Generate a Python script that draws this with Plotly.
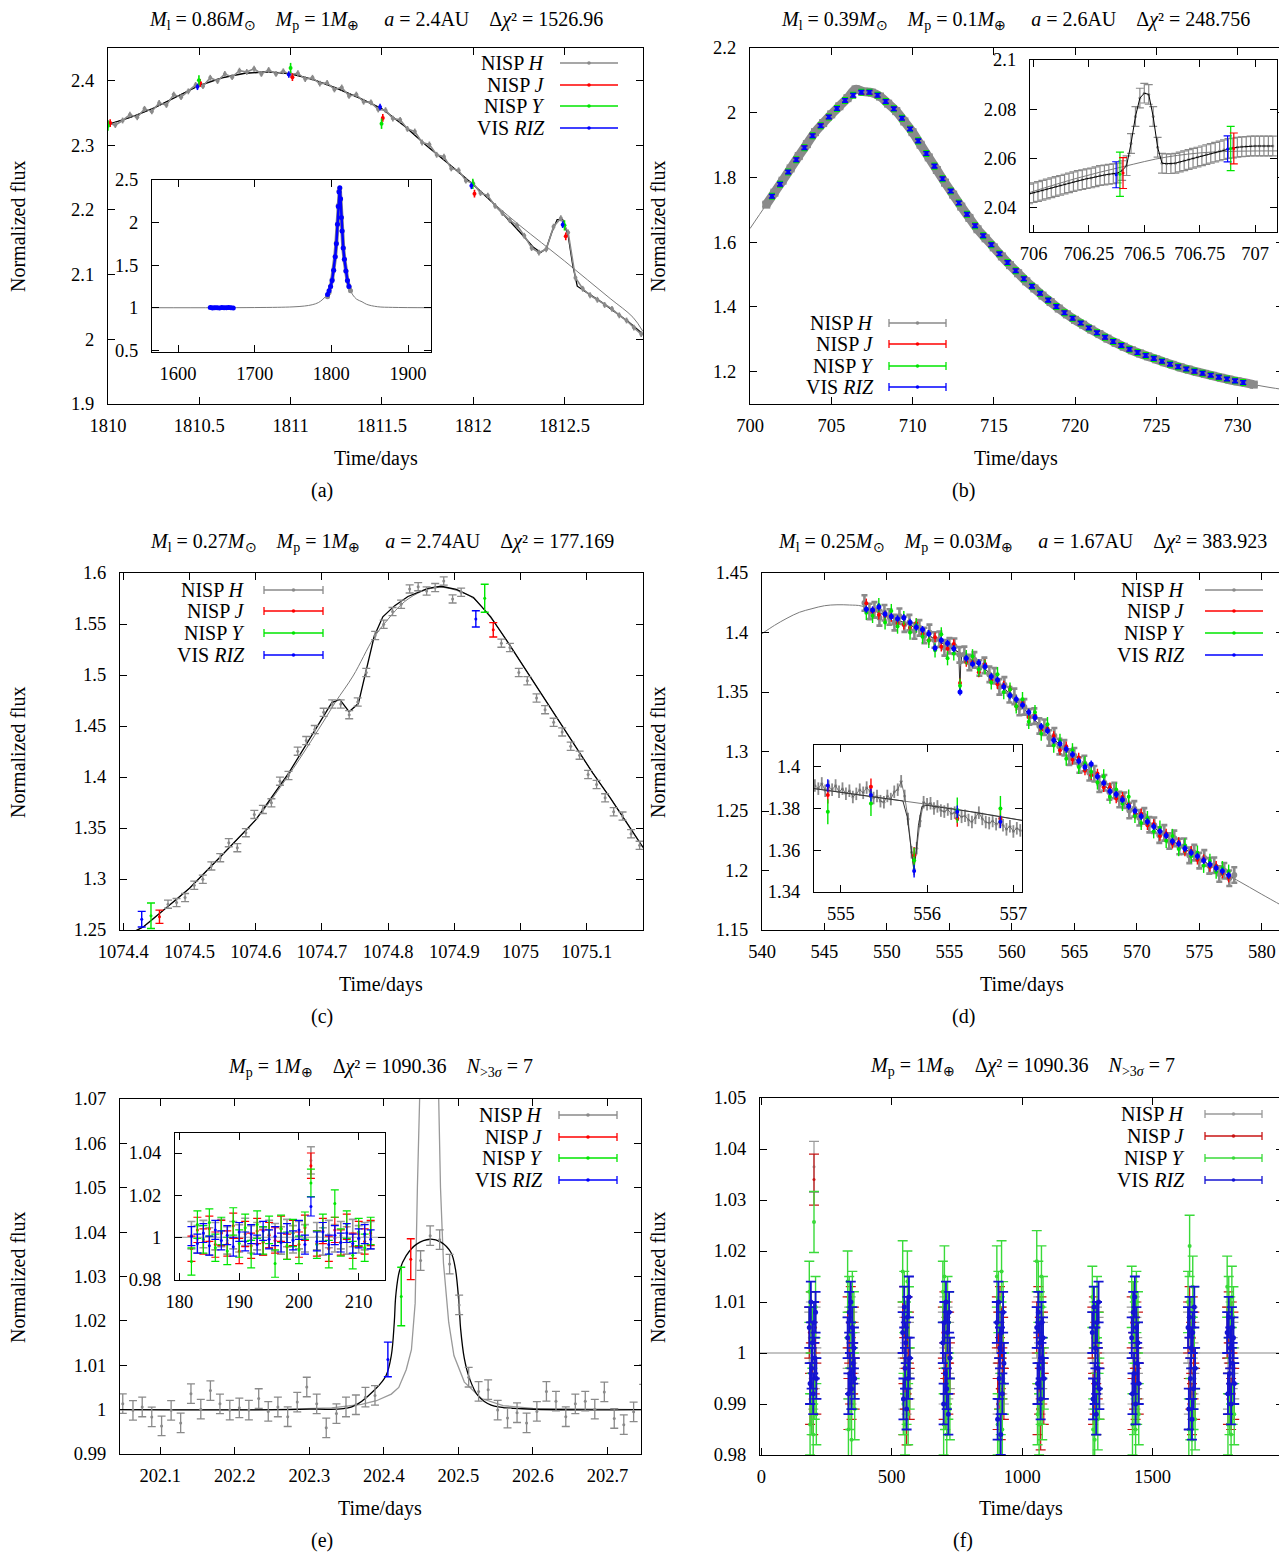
import plotly.graph_objects as go

# ============================ DATA ============================
# ---- panel (a) ----
a_H_t = [1810.00, 1810.04, 1810.08, 1810.12, 1810.16, 1810.20, 1810.24, 1810.28, 1810.32, 1810.36,
         1810.40, 1810.44, 1810.48, 1810.52, 1810.56, 1810.60, 1810.64, 1810.68, 1810.72, 1810.76,
         1810.80, 1810.84, 1810.88, 1810.92, 1810.96, 1811.00, 1811.04, 1811.08, 1811.12, 1811.16,
         1811.20, 1811.24, 1811.28, 1811.32, 1811.36, 1811.40, 1811.44, 1811.48, 1811.52, 1811.56,
         1811.60, 1811.64, 1811.68, 1811.72, 1811.76, 1811.80, 1811.84, 1811.88, 1811.92, 1811.96,
         1812.00, 1812.04, 1812.08, 1812.12, 1812.16, 1812.20, 1812.24, 1812.28, 1812.32, 1812.36,
         1812.40, 1812.44, 1812.48, 1812.52, 1812.56, 1812.60, 1812.64, 1812.68, 1812.72, 1812.76,
         1812.80, 1812.84, 1812.88, 1812.92]
a_H_f = [2.334, 2.331, 2.338, 2.347, 2.343, 2.356, 2.352, 2.365, 2.362, 2.378,
         2.374, 2.383, 2.393, 2.391, 2.404, 2.399, 2.410, 2.405, 2.415, 2.413,
         2.418, 2.410, 2.416, 2.410, 2.414, 2.409, 2.411, 2.402, 2.404, 2.395,
         2.396, 2.386, 2.389, 2.376, 2.378, 2.367, 2.366, 2.355, 2.354, 2.341,
         2.339, 2.325, 2.321, 2.304, 2.301, 2.285, 2.282, 2.264, 2.261, 2.245,
         2.241, 2.226, 2.222, 2.206, 2.195, 2.184, 2.176, 2.160, 2.141, 2.134,
         2.139, 2.174, 2.187, 2.165, 2.095, 2.078, 2.068, 2.061, 2.053, 2.047,
         2.037, 2.029, 2.018, 2.008]
a_J_t = [1810.012, 1810.505, 1811.010, 1811.505, 1812.007, 1812.507]
a_J_f = [2.334, 2.396, 2.405, 2.342, 2.225, 2.159]
a_Y_t = [1810.000, 1810.498, 1811.000, 1811.498, 1811.998, 1812.500]
a_Y_f = [2.330, 2.400, 2.419, 2.333, 2.240, 2.176]
a_V_t = [1810.490, 1810.990, 1811.490, 1811.990, 1812.490]
a_V_f = [2.390, 2.409, 2.359, 2.237, 2.177]
a_sl_t = [1810.0, 1810.125, 1810.25, 1810.375, 1810.5, 1810.625, 1810.75, 1810.875, 1811.0, 1811.125,
          1811.25, 1811.375, 1811.5, 1811.625, 1811.75, 1811.875, 1812.0, 1812.125, 1812.25, 1812.375,
          1812.5, 1812.625, 1812.75, 1812.875, 1812.93]
a_sl_f = [2.332, 2.343, 2.357, 2.375, 2.392, 2.404, 2.411, 2.413, 2.410, 2.401,
          2.388, 2.373, 2.356, 2.329, 2.298, 2.269, 2.239, 2.207, 2.177, 2.149,
          2.121, 2.092, 2.063, 2.034, 2.012]
a_pl_t = [1810.0, 1810.125, 1810.25, 1810.375, 1810.5, 1810.625, 1810.75, 1810.875, 1811.0, 1811.125,
          1811.25, 1811.375, 1811.5, 1811.625, 1811.75, 1811.875, 1812.0, 1812.1, 1812.2, 1812.28,
          1812.33, 1812.37, 1812.40, 1812.43, 1812.46, 1812.49, 1812.52, 1812.545, 1812.57, 1812.6,
          1812.65, 1812.7, 1812.75, 1812.8, 1812.85, 1812.93]
a_pl_f = [2.332, 2.343, 2.357, 2.375, 2.392, 2.404, 2.411, 2.413, 2.410, 2.401,
          2.388, 2.373, 2.356, 2.329, 2.298, 2.269, 2.239, 2.213, 2.183, 2.158,
          2.142, 2.134, 2.140, 2.165, 2.185, 2.185, 2.160, 2.115, 2.082, 2.076,
          2.067, 2.058, 2.048, 2.038, 2.027, 2.008]
# inset (a)
ai_sl_t = [1566, 1650, 1700, 1730, 1750, 1765, 1775, 1783, 1789, 1794, 1798, 1801, 1804, 1806.5, 1808.5,
           1809.8, 1810.9, 1812, 1813.3, 1815.5, 1818, 1821, 1824, 1828, 1833, 1840, 1846, 1860, 1880, 1930]
ai_sl_f = [1.0, 1.0, 1.002, 1.005, 1.01, 1.02, 1.035, 1.06, 1.1, 1.15, 1.22, 1.32, 1.5, 1.75, 2.05,
           2.3, 2.41, 2.28, 2.0, 1.7, 1.48, 1.32, 1.22, 1.15, 1.1, 1.07, 1.04, 1.012, 1.004, 1.0]
ai_H_t = [1795, 1797, 1799, 1801, 1803, 1805, 1806.5, 1808, 1809, 1810, 1811, 1812, 1813, 1814,
          1815.5, 1817, 1819, 1821, 1823, 1825]
ai_H_f = [1.13, 1.18, 1.25, 1.33, 1.44, 1.6, 1.76, 1.98, 2.2, 2.37, 2.4, 2.27, 2.06, 1.9,
          1.7, 1.57, 1.43, 1.32, 1.25, 1.2]
ai_Vb_t = [1642, 1645, 1648, 1651, 1654, 1657, 1660, 1663, 1666, 1669, 1672]
ai_Vb_f = [1.003, 0.998, 1.001, 1.0, 0.997, 1.002, 1.0, 0.999, 1.003, 1.0, 0.998]
ai_Vp_t = [1795, 1797, 1799, 1801, 1803, 1805, 1806.5, 1808, 1809, 1810, 1811, 1812, 1813, 1814,
           1815.5, 1817, 1819, 1821, 1823]
ai_Vp_f = [1.155, 1.2, 1.25, 1.32, 1.44, 1.6, 1.75, 1.98, 2.19, 2.36, 2.41, 2.28, 2.06, 1.9,
           1.7, 1.57, 1.43, 1.32, 1.25]

# ---- panel (b) ----
b_sl_t = [700, 701, 702, 703, 704, 705, 706, 706.5, 707, 707.5, 708, 709, 710, 711, 712, 713, 714, 715,
          716, 717, 718, 719, 720, 721, 722, 723, 724, 725, 726, 727, 728, 729, 730, 731, 732, 732.8]
b_sl_f = [1.642, 1.716, 1.790, 1.866, 1.940, 1.995, 2.045, 2.058, 2.065, 2.062, 2.050, 2.005, 1.940,
          1.862, 1.784, 1.710, 1.640, 1.584, 1.529, 1.479, 1.435, 1.395, 1.360, 1.330, 1.302, 1.277,
          1.256, 1.238, 1.221, 1.206, 1.193, 1.181, 1.170, 1.160, 1.151, 1.145]
b_H_t = [701.0, 701.5, 702.0, 702.5, 703.0, 703.5, 704.0, 704.5, 705.0, 705.5, 706.0, 706.5, 707.0,
         707.5, 708.0, 708.5, 709.0, 709.5, 710.0, 710.5, 711.0, 711.5, 712.0, 712.5, 713.0, 713.5,
         714.0, 714.5, 715.0, 715.5, 716.0, 716.5, 717.0, 717.5, 718.0, 718.5, 719.0, 719.5, 720.0,
         720.5, 721.0, 721.5, 722.0, 722.5, 723.0, 723.5, 724.0, 724.5, 725.0, 725.5, 726.0, 726.5,
         727.0, 727.5, 728.0, 728.5, 729.0, 729.5, 730.0, 730.5, 731.0]
b_H_f = [1.716, 1.753, 1.790, 1.828, 1.866, 1.903, 1.940, 1.968, 1.995, 2.020, 2.045, 2.072, 2.065,
         2.062, 2.050, 2.028, 2.005, 1.973, 1.940, 1.901, 1.862, 1.823, 1.784, 1.747, 1.710, 1.675,
         1.640, 1.612, 1.584, 1.556, 1.529, 1.504, 1.479, 1.457, 1.435, 1.415, 1.395, 1.377, 1.360,
         1.345, 1.330, 1.316, 1.302, 1.289, 1.277, 1.266, 1.256, 1.247, 1.238, 1.229, 1.221, 1.213,
         1.206, 1.199, 1.193, 1.187, 1.181, 1.175, 1.170, 1.165, 1.160]
b_V_t = [701.35, 701.85, 702.35, 702.85, 703.35, 703.85, 704.35, 704.85, 705.35, 705.85,
         706.35, 706.85, 707.35, 707.85, 708.35, 708.85, 709.35, 709.85, 710.35, 710.85,
         711.35, 711.85, 712.35, 712.85, 713.35, 713.85, 714.35, 714.85, 715.35, 715.85,
         716.35, 716.85, 717.35, 717.85, 718.35, 718.85, 719.35, 719.85, 720.35, 720.85,
         721.35, 721.85, 722.35, 722.85, 723.35, 723.85, 724.35, 724.85, 725.35, 725.85,
         726.35, 726.85, 727.35, 727.85, 728.35, 728.85, 729.35, 729.85, 730.35]
b_V_f = [1.742, 1.779, 1.817, 1.855, 1.892, 1.929, 1.960, 1.987, 2.013, 2.038,
         2.054, 2.063, 2.063, 2.054, 2.035, 2.012, 1.983, 1.950, 1.913, 1.874,
         1.835, 1.796, 1.758, 1.721, 1.686, 1.651, 1.620, 1.592, 1.564, 1.537,
         1.512, 1.487, 1.464, 1.442, 1.421, 1.401, 1.382, 1.365, 1.350, 1.335,
         1.320, 1.306, 1.293, 1.281, 1.269, 1.259, 1.250, 1.241, 1.232, 1.223,
         1.215, 1.208, 1.201, 1.195, 1.189, 1.183, 1.177, 1.1715, 1.1665]
# inset (b)
bi_H_t = [705.98, 706.00, 706.02, 706.04, 706.06, 706.08, 706.10, 706.12, 706.14, 706.16,
          706.18, 706.20, 706.22, 706.24, 706.26, 706.28, 706.30, 706.32, 706.34, 706.36,
          706.38, 706.40, 706.42, 706.44, 706.46, 706.48, 706.50, 706.52, 706.54, 706.56,
          706.58, 706.60, 706.62, 706.64, 706.66, 706.68, 706.70, 706.72, 706.74, 706.76,
          706.78, 706.80, 706.82, 706.84, 706.86, 706.88, 706.90, 706.92, 706.94, 706.96,
          706.98, 707.00, 707.02, 707.04, 707.06, 707.08]
bi_H_f = [2.0455, 2.0460, 2.0465, 2.0470, 2.0475, 2.0480, 2.0485, 2.0490, 2.0495, 2.0500,
          2.0505, 2.0510, 2.0513, 2.0517, 2.0520, 2.0525, 2.0530, 2.0532, 2.0535, 2.0537,
          2.0540, 2.0550, 2.0570, 2.0660, 2.0770, 2.0845, 2.0865, 2.0860, 2.0770, 2.0645,
          2.0580, 2.0578, 2.0578, 2.0580, 2.0585, 2.0590, 2.0595, 2.0600, 2.0605, 2.0610,
          2.0615, 2.0620, 2.0625, 2.0630, 2.0635, 2.0640, 2.0642, 2.0645, 2.0647, 2.0648,
          2.0650, 2.0650, 2.0650, 2.0650, 2.0650, 2.0650]
bi_sl_t = [705.98, 706.2, 706.4, 706.6, 706.8, 707.1]
bi_sl_f = [2.0460, 2.0520, 2.0565, 2.0605, 2.0625, 2.0630]
bi_J_t = [706.404, 706.904]
bi_J_f = [2.0540, 2.0640]
bi_Y_t = [706.390, 706.890]
bi_Y_f = [2.0535, 2.0640]
bi_V_t = [706.373, 706.876]
bi_V_f = [2.0533, 2.0638]

# ---- panel (c) ----
c_H_t = [1074.4675, 1074.4804, 1074.4933, 1074.5072, 1074.5201, 1074.5330, 1074.5464, 1074.5593,
         1074.5722, 1074.5851, 1074.5979, 1074.6108, 1074.6237, 1074.6366, 1074.6495, 1074.6634,
         1074.6763, 1074.6892, 1074.7026, 1074.7155, 1074.7284, 1074.7412, 1074.7541, 1074.7670,
         1074.7804, 1074.7933, 1074.8067, 1074.8196, 1074.8325, 1074.8454, 1074.8582, 1074.8711,
         1074.8840, 1074.8974, 1074.9103, 1074.9711, 1074.9840, 1074.9974, 1075.0103, 1075.0242,
         1075.0371, 1075.0500, 1075.0629, 1075.0758, 1075.0892, 1075.1021, 1075.1149, 1075.1278,
         1075.1407, 1075.1541, 1075.1670, 1075.1799]
c_H_f = [1.2753, 1.2769, 1.2818, 1.2939, 1.2998, 1.3128, 1.3209, 1.3356, 1.3307, 1.3454,
         1.3633, 1.3682, 1.3747, 1.3959, 1.4015, 1.4253, 1.4357, 1.4465, 1.4634, 1.4716,
         1.4716, 1.4611, 1.4735, 1.5025, 1.5387, 1.5498, 1.5622, 1.5694, 1.5844, 1.5866,
         1.5824, 1.5857, 1.5922, 1.5746, 1.5811, 1.5312, 1.5270, 1.5025, 1.4944, 1.4774,
         1.4660, 1.4536, 1.4442, 1.4302, 1.4214, 1.4024, 1.3927, 1.3796, 1.3659, 1.3617,
         1.3444, 1.3330]
c_J_t = [1074.4546, 1074.9588]
c_J_f = [1.2630, 1.5443]
c_J_e = [0.0065, 0.0070]
c_Y_t = [1074.4418, 1074.9459]
c_Y_f = [1.2640, 1.5752]
c_Y_e = [0.0125, 0.0137]
c_V_t = [1074.4278, 1074.9325]
c_V_f = [1.2606, 1.5550]
c_V_e = [0.0077, 0.0080]
c_sl_t = [1074.395, 1074.43, 1074.46, 1074.5, 1074.55, 1074.6, 1074.65, 1074.7, 1074.721, 1074.747,
          1074.778, 1074.799, 1074.825, 1074.851, 1074.877, 1074.903, 1074.929, 1074.955, 1074.980,
          1075.006, 1075.032, 1075.058, 1075.083, 1075.109, 1075.135, 1075.161, 1075.185]
c_sl_f = [1.2415, 1.253, 1.269, 1.291, 1.324, 1.358, 1.402, 1.452, 1.474, 1.499,
          1.536, 1.554, 1.572, 1.582, 1.586, 1.583, 1.575, 1.556, 1.533,
          1.507, 1.481, 1.455, 1.430, 1.404, 1.380, 1.355, 1.331]
c_pl_t = [1074.395, 1074.43, 1074.46, 1074.5, 1074.55, 1074.6, 1074.65, 1074.7, 1074.715, 1074.727,
          1074.741, 1074.755, 1074.767, 1074.779, 1074.792, 1074.81, 1074.83, 1074.86, 1074.88,
          1074.903, 1074.929, 1074.955, 1074.980, 1075.006, 1075.032, 1075.058, 1075.083, 1075.109,
          1075.135, 1075.161, 1075.185]
c_pl_f = [1.2415, 1.253, 1.269, 1.291, 1.324, 1.358, 1.404, 1.458, 1.473, 1.476,
          1.464, 1.472, 1.505, 1.538, 1.557, 1.568, 1.577, 1.585, 1.587,
          1.584, 1.576, 1.557, 1.533, 1.507, 1.481, 1.455, 1.430, 1.404,
          1.380, 1.355, 1.331]

# ---- panel (d) ----
d_sl_t = [540, 541, 542, 543, 544, 545, 546, 547, 548, 550, 552, 554, 556, 558, 560, 562, 564, 566,
          568, 570, 572, 574, 576, 578, 580, 581.7]
d_sl_f = [1.399, 1.406, 1.412, 1.417, 1.420, 1.4225, 1.4233, 1.4231, 1.4222, 1.4138, 1.4055, 1.3935,
          1.3820, 1.3680, 1.3465, 1.3245, 1.3040, 1.2850, 1.2660, 1.2480, 1.2310, 1.2170, 1.2035,
          1.1920, 1.1800, 1.1700]
d_pl_t = [548.15, 550, 552, 554, 555, 555.5, 555.72, 555.77, 555.81, 555.845, 555.87, 555.9, 555.94,
          556.0, 556.5, 558, 560, 562, 564, 566, 568, 570, 572, 574, 576, 577.9]
d_pl_f = [1.4218, 1.4138, 1.4055, 1.3935, 1.3878, 1.3849, 1.3836, 1.3760, 1.3620, 1.3510, 1.3580,
          1.3720, 1.3810, 1.3815, 1.3785, 1.3680, 1.3465, 1.3245, 1.3040, 1.2850, 1.2660, 1.2480,
          1.2310, 1.2170, 1.2035, 1.1925]
d_H_t = [548.2, 548.6, 549.0, 549.4, 549.8, 550.2, 550.6, 551.0, 551.4, 551.8,
         552.2, 552.6, 553.0, 553.4, 553.8, 554.2, 554.6, 555.0, 555.4, 555.8,
         556.2, 556.6, 557.0, 557.4, 557.8, 558.2, 558.6, 559.0, 559.4, 559.8,
         560.2, 560.6, 561.0, 561.4, 561.8, 562.2, 562.6, 563.0, 563.4, 563.8,
         564.2, 564.6, 565.0, 565.4, 565.8, 566.2, 566.6, 567.0, 567.4, 567.8,
         568.2, 568.6, 569.0, 569.4, 569.8, 570.2, 570.6, 571.0, 571.4, 571.8,
         572.2, 572.6, 573.0, 573.4, 573.8, 574.2, 574.6, 575.0, 575.4, 575.8,
         576.2, 576.6, 577.0, 577.4, 577.8]
d_H_f = [1.4248, 1.4177, 1.4190, 1.4123, 1.4166, 1.4130, 1.4083, 1.4137, 1.4070, 1.4083,
         1.4013, 1.4039, 1.3975, 1.4001, 1.3937, 1.3944, 1.3871, 1.3888, 1.3885, 1.3812,
         1.3816, 1.3748, 1.3770, 1.3702, 1.3724, 1.3648, 1.3636, 1.3543, 1.3560, 1.3477,
         1.3463, 1.3369, 1.3375, 1.3291, 1.3297, 1.3215, 1.3204, 1.3113, 1.3132, 1.3041,
         1.3031, 1.2953, 1.2965, 1.2887, 1.2899, 1.2821, 1.2813, 1.2725, 1.2737, 1.2659,
         1.2672, 1.2596, 1.2590, 1.2504, 1.2518, 1.2443, 1.2459, 1.2385, 1.2381, 1.2297,
         1.2316, 1.2248, 1.2270, 1.2202, 1.2204, 1.2127, 1.2150, 1.2083, 1.2106, 1.2039,
         1.2044, 1.1971, 1.1998, 1.1935, 1.1962]
d_C_t = [548.35, 548.85, 549.35, 549.85, 550.35, 550.85, 551.35, 551.85, 552.35, 552.85,
         553.35, 553.85, 554.35, 554.85, 555.35, 555.85, 556.35, 556.85, 557.35, 557.85,
         558.35, 558.85, 559.35, 559.85, 560.35, 560.85, 561.35, 561.85, 562.35, 562.85,
         563.35, 563.85, 564.35, 564.85, 565.35, 565.85, 566.35, 566.85, 567.35, 567.85,
         568.35, 568.85, 569.35, 569.85, 570.35, 570.85, 571.35, 571.85, 572.35, 572.85,
         573.35, 573.85, 574.35, 574.85, 575.35, 575.85, 576.35, 576.85, 577.35]
d_V_f = [1.4195, 1.4190, 1.4215, 1.4155, 1.4135, 1.4115, 1.4125, 1.4085, 1.4045, 1.4025,
         1.3990, 1.3870, 1.3935, 1.3910, 1.3864, 1.3500, 1.3784, 1.3736, 1.3745, 1.3715,
         1.3630, 1.3600, 1.3545, 1.3470, 1.3440, 1.3390, 1.3330, 1.3285, 1.3210, 1.3175,
         1.3095, 1.3065, 1.3020, 1.2975, 1.2920, 1.2870, 1.2895, 1.2790, 1.2735, 1.2665,
         1.2640, 1.2595, 1.2540, 1.2500, 1.2455, 1.2410, 1.2370, 1.2330, 1.2295, 1.2245,
         1.2225, 1.2185, 1.2150, 1.2120, 1.2085, 1.2050, 1.2020, 1.1995, 1.1960]
d_J_f = [1.4245, 1.4175, 1.4150, 1.4140, 1.4130, 1.4080, 1.4065, 1.4040, 1.4080, 1.3990,
         1.3935, 1.3960, 1.3880, 1.3864, 1.3904, 1.3576, 1.3752, 1.3752, 1.3665, 1.3735,
         1.3600, 1.3565, 1.3555, 1.3520, 1.3380, 1.3410, 1.3290, 1.3300, 1.3180, 1.3195,
         1.3130, 1.3010, 1.3045, 1.2930, 1.2950, 1.2840, 1.2800, 1.2815, 1.2700, 1.2700,
         1.2605, 1.2620, 1.2555, 1.2470, 1.2480, 1.2380, 1.2390, 1.2290, 1.2310, 1.2225,
         1.2240, 1.2160, 1.2165, 1.2090, 1.2095, 1.2030, 1.2040, 1.1975, 1.1940]
d_Y_f = [1.4165, 1.4140, 1.4230, 1.4085, 1.4180, 1.4050, 1.4120, 1.4000, 1.4060, 1.3965,
         1.3930, 1.3850, 1.3985, 1.3784, 1.3824, 1.3552, 1.3792, 1.3800, 1.3690, 1.3710,
         1.3580, 1.3650, 1.3500, 1.3520, 1.3380, 1.3440, 1.3250, 1.3330, 1.3150, 1.3230,
         1.3050, 1.3090, 1.2940, 1.3010, 1.2870, 1.2900, 1.2830, 1.2740, 1.2790, 1.2620,
         1.2680, 1.2560, 1.2620, 1.2460, 1.2400, 1.2440, 1.2330, 1.2360, 1.2250, 1.2290,
         1.2180, 1.2210, 1.2120, 1.2150, 1.2040, 1.2080, 1.1990, 1.2020, 1.1990]
# inset (d)
di_H_t = [554.70, 554.74, 554.78, 554.82, 554.86, 554.90, 554.94, 554.98, 555.02, 555.06,
          555.10, 555.14, 555.18, 555.22, 555.26, 555.30, 555.34, 555.38, 555.42, 555.46,
          555.50, 555.54, 555.58, 555.62, 555.66, 555.70, 555.74, 555.78, 555.82, 555.85,
          555.88, 555.92, 555.96, 556.00, 556.04, 556.08, 556.12, 556.16, 556.20, 556.24,
          556.28, 556.32, 556.36, 556.40, 556.44, 556.48, 556.52, 556.56, 556.60, 556.64,
          556.68, 556.72, 556.76, 556.80, 556.84, 556.88, 556.92, 556.96, 557.00, 557.04, 557.08]
di_H_f = [1.3910, 1.3895, 1.3920, 1.3885, 1.3905, 1.3890, 1.3910, 1.3880, 1.3895, 1.3870,
          1.3885, 1.3855, 1.3870, 1.3890, 1.3875, 1.3900, 1.3880, 1.3850, 1.3860, 1.3835,
          1.3830, 1.3860, 1.3845, 1.3880, 1.3890, 1.3930, 1.3860, 1.3750, 1.3590, 1.3510,
          1.3610, 1.3740, 1.3830, 1.3820, 1.3825, 1.3800, 1.3810, 1.3790, 1.3785, 1.3795,
          1.3775, 1.3780, 1.3770, 1.3760, 1.3765, 1.3745, 1.3735, 1.3755, 1.3780, 1.3750,
          1.3735, 1.3730, 1.3740, 1.3725, 1.3735, 1.3720, 1.3700, 1.3715, 1.3690, 1.3705, 1.3695]

# ---- panel (e) ----
e_H_t = [202.0497, 202.0634, 202.0758, 202.0886, 202.1018, 202.1146, 202.1274, 202.1412, 202.1544,
         202.1673, 202.1801, 202.1933, 202.2061, 202.2189, 202.2321, 202.2449, 202.2578, 202.2710,
         202.2838, 202.2966, 202.3099, 202.3227, 202.3364, 202.3492, 202.3625, 202.3753, 202.3881,
         202.4493, 202.4621, 202.4749, 202.4882, 202.5010, 202.5138, 202.5271, 202.5399, 202.5527,
         202.5659, 202.5787, 202.5915, 202.6053, 202.6181, 202.6309, 202.6441, 202.6569, 202.6702,
         202.6830, 202.6958, 202.7091, 202.7219, 202.7351, 202.7479]
e_H_f = [1.00135, 0.99985, 1.0006, 0.99835, 0.99633, 0.99985, 0.9970, 1.0036, 1.0001,
         1.0043, 1.0013, 0.9999, 1.0004, 0.9999, 1.0025, 0.9996, 1.0006, 0.9984,
         1.0017, 1.0051, 1.0013, 0.9959, 0.9991, 1.0006, 1.0011, 1.0028, 1.0032,
         1.0336, 1.0392, 1.0383, 1.0328, 1.0236, 1.0073, 1.0041, 1.0045, 0.9999,
         0.9981, 0.9993, 0.9970, 0.9996, 1.0041, 1.0019, 0.9984, 1.0013, 1.0019,
         1.0001, 1.0040, 0.9980, 0.9966, 0.9995, 1.0079]
e_J_t = [202.4361]
e_J_f = [1.0339]
e_Y_t = [202.4233]
e_Y_f = [1.0255]
e_V_t = [202.4054]
e_V_f = [1.0113]
e_sl_t = [202.046, 202.25, 202.33, 202.37, 202.39, 202.41, 202.42, 202.43, 202.437, 202.442, 202.445,
          202.448, 202.46, 202.473, 202.476, 202.480, 202.487, 202.494, 202.508, 202.531, 202.56,
          202.6, 202.745]
e_sl_f = [1.0, 1.0, 1.0004, 1.0012, 1.002, 1.0035, 1.005, 1.009, 1.0135, 1.024, 1.05,
          1.075, 1.15, 1.075, 1.05, 1.033, 1.0197, 1.0122, 1.0062, 1.0025, 1.0009,
          1.0003, 1.0]
e_pl_t = [202.046, 202.3, 202.357, 202.389, 202.403, 202.41, 202.414, 202.416, 202.421, 202.43,
          202.444, 202.462, 202.476, 202.49, 202.496, 202.501, 202.503, 202.508, 202.515, 202.526,
          202.544, 202.586, 202.745]
e_pl_f = [1.0, 1.0001, 1.0006, 1.0047, 1.0077, 1.0122, 1.0197, 1.0257, 1.0313, 1.0347,
          1.0373, 1.0384, 1.0378, 1.0354, 1.0317, 1.0234, 1.0182, 1.0115, 1.007, 1.0032,
          1.001, 1.0002, 1.0]
# inset (e)
ei_t = [182, 183, 184, 185, 186, 187, 188, 189, 190, 191, 192, 193, 194, 195, 196, 197, 198, 199,
        200, 201, 202, 203, 204, 205, 206, 207, 208, 209, 210, 211, 212]
ei_H_f = [1.001, 0.999, 1.0015, 0.998, 1.0005, 1.002, 0.9985, 1.001, 0.9995, 1.0025, 0.999,
          1.0005, 0.998, 1.0015, 1.0, 0.9985, 1.002, 0.999, 1.001, 0.9995, 1.0365, 1.0005,
          0.998, 1.0015, 0.9995, 1.001, 0.9985, 1.002, 0.999, 1.0005, 1.001]
ei_J_f = [0.9945, 1.0035, 0.998, 1.004, 0.9965, 1.002, 0.997, 1.0055, 0.9935, 1.0015, 0.996,
          1.003, 0.9975, 1.001, 0.9985, 1.004, 0.9955, 1.002, 0.9965, 1.0045, 1.034, 0.997,
          1.003, 0.9945, 1.0035, 0.9975, 1.005, 0.996, 1.0015, 0.998, 1.002]
ei_Y_f = [0.9885, 1.006, 0.999, 1.007, 0.995, 1.003, 0.9935, 1.0075, 0.997, 1.0045, 0.992,
          1.006, 0.9985, 1.0035, 0.9875, 1.004, 0.996, 1.002, 0.994, 1.0055, 1.0258, 0.9965,
          1.0045, 0.992, 1.016, 0.9975, 1.006, 0.9915, 1.0025, 0.995, 1.003]
ei_V_f = [1.0005, 0.997, 1.002, 0.996, 1.0035, 0.9985, 1.001, 0.9955, 1.0025, 0.998, 1.0015,
          0.9965, 1.003, 0.999, 1.0005, 0.9975, 1.002, 0.9985, 1.0035, 0.9965, 1.0146, 0.998,
          1.0025, 0.9965, 1.001, 0.9975, 1.002, 0.997, 0.9995, 1.0015, 0.999]

# ---- panel (f) ----
f_t = [184, 187, 190, 193, 196, 199, 202, 205, 208, 211,
       331, 334, 337, 340, 343, 346, 349, 352, 355, 358,
       542, 545, 548, 551, 554, 557, 560, 563, 566, 569,
       696, 699, 702, 705, 708, 711, 714, 717, 720, 723,
       903, 906, 909, 912, 915, 918, 921, 924, 927, 930,
       1056, 1059, 1062, 1065, 1068, 1071, 1074, 1077, 1080, 1083,
       1269, 1272, 1275, 1278, 1281, 1284, 1287, 1290, 1293, 1296,
       1420, 1423, 1426, 1429, 1432, 1435, 1438, 1441, 1444, 1447,
       1636, 1639, 1642, 1645, 1648, 1651, 1654, 1657, 1660, 1663,
       1786, 1789, 1792, 1795, 1798, 1801, 1804, 1807, 1810, 1813]
f_H_f = [1.003, 0.995, 1.005, 0.997, 1.001, 0.994, 1.0365, 0.998, 1.004, 0.996,
         1.002, 0.996, 1.004, 0.998, 1.006, 0.995, 1.003, 0.997, 1.001, 0.999,
         1.004, 0.994, 1.002, 0.997, 1.005, 0.993, 1.003, 0.998, 1.001, 0.996,
         1.003, 0.995, 1.006, 0.997, 1.002, 0.994, 1.004, 0.996, 1.001, 0.998,
         1.005, 0.993, 1.003, 0.996, 1.001, 0.992, 1.004, 0.997, 1.002, 0.995,
         1.004, 0.995, 1.006, 0.997, 1.002, 0.993, 1.003, 0.998, 1.001, 0.996,
         1.003, 0.994, 1.005, 0.996, 1.001, 0.992, 1.004, 0.997, 1.002, 0.995,
         1.004, 0.995, 1.003, 0.997, 1.006, 0.994, 1.002, 0.998, 1.001, 0.996,
         1.003, 0.993, 1.005, 0.996, 1.002, 0.992, 1.004, 0.997, 1.001, 0.995,
         1.004, 0.994, 1.003, 0.997, 1.005, 0.993, 1.002, 0.998, 1.001, 0.996]
f_J_f = [1.004, 0.991, 1.007, 0.995, 1.001, 0.989, 1.034, 0.997, 1.005, 0.993,
         1.006, 0.990, 1.003, 0.995, 1.008, 0.992, 1.001, 0.997, 1.004, 0.994,
         1.005, 0.989, 1.008, 0.994, 1.002, 0.987, 1.006, 0.996, 1.003, 0.992,
         1.004, 0.992, 1.007, 0.990, 1.001, 0.995, 1.005, 0.993, 1.003, 0.997,
         1.006, 0.990, 1.003, 0.994, 1.008, 0.988, 1.004, 0.996, 1.002, 0.992,
         1.005, 0.989, 1.008, 0.993, 1.002, 0.986, 1.006, 0.995, 1.003, 0.991,
         1.004, 0.991, 1.006, 0.993, 1.001, 0.989, 1.005, 0.996, 1.003, 0.992,
         1.006, 0.990, 1.009, 0.994, 1.002, 0.992, 1.005, 0.996, 1.003, 0.993,
         1.005, 0.990, 1.008, 0.994, 1.001, 0.989, 1.006, 0.996, 1.003, 0.992,
         1.004, 0.991, 1.007, 0.993, 1.002, 0.990, 1.005, 0.995, 1.003, 0.992]
f_Y_f = [1.012, 0.986, 1.006, 0.990, 1.003, 0.984, 1.0257, 0.993, 1.009, 0.988,
         1.014, 0.985, 1.009, 0.991, 1.003, 0.983, 1.010, 0.995, 1.006, 0.989,
         1.016, 0.990, 1.010, 0.986, 1.004, 0.992, 1.014, 0.988, 1.007, 0.995,
         1.012, 0.986, 1.015, 0.991, 1.004, 0.984, 1.009, 0.993, 1.006, 0.989,
         1.015, 0.986, 1.010, 0.983, 1.005, 0.990, 1.016, 0.985, 1.008, 0.994,
         1.018, 0.988, 1.012, 0.986, 1.006, 0.992, 1.015, 0.989, 1.009, 0.995,
         1.011, 0.985, 1.007, 0.983, 1.004, 0.990, 1.009, 0.987, 1.002, 0.993,
         1.011, 0.986, 1.008, 0.990, 1.004, 0.985, 1.010, 0.992, 1.006, 0.988,
         1.010, 0.985, 1.021, 0.989, 1.005, 0.983, 1.013, 0.991, 1.007, 0.987,
         1.013, 0.986, 1.009, 0.990, 1.005, 0.984, 1.011, 0.992, 1.007, 0.988]
f_V_f = [1.005, 0.994, 1.010, 0.997, 1.002, 0.992, 1.006, 0.999, 1.008, 0.995,
         1.003, 0.992, 1.008, 0.996, 1.010, 0.993, 1.005, 0.998, 1.001, 0.995,
         1.004, 0.991, 1.009, 0.997, 1.002, 0.989, 1.007, 0.995, 1.011, 0.999,
         1.002, 0.990, 1.006, 0.996, 1.010, 0.993, 1.004, 0.988, 1.008, 0.999,
         1.006, 0.987, 1.010, 0.995, 1.001, 0.984, 1.004, 0.992, 1.008, 0.998,
         1.005, 0.994, 1.008, 0.997, 1.002, 0.991, 1.006, 0.999, 1.003, 0.995,
         1.004, 0.991, 1.009, 0.994, 1.001, 0.988, 1.006, 0.997, 1.010, 0.993,
         1.003, 0.992, 1.008, 0.996, 1.011, 0.990, 1.005, 0.998, 1.002, 0.994,
         1.005, 0.989, 1.007, 0.995, 1.001, 0.987, 1.004, 0.993, 1.009, 0.997,
         1.004, 0.992, 1.007, 0.996, 1.001, 0.990, 1.005, 0.998, 1.003, 0.994]
f_model_t = [-5, 2000]
f_model_f = [1.0, 1.0]

# ---- tick labels ----
a_xt = [1810, 1810.5, 1811, 1811.5, 1812, 1812.5]
a_xl = ["1810", "1810.5", "1811", "1811.5", "1812", "1812.5"]
a_yt = [1.9, 2.0, 2.1, 2.2, 2.3, 2.4]
a_yl = ["1.9", "2", "2.1", "2.2", "2.3", "2.4"]
ai_xt = [1600, 1700, 1800, 1900]
ai_xl = ["1600", "1700", "1800", "1900"]
ai_yt = [0.5, 1.0, 1.5, 2.0, 2.5]
ai_yl = ["0.5", "1", "1.5", "2", "2.5"]
b_xt = [700, 705, 710, 715, 720, 725, 730]
b_xl = ["700", "705", "710", "715", "720", "725", "730"]
b_yt = [1.2, 1.4, 1.6, 1.8, 2.0, 2.2]
b_yl = ["1.2", "1.4", "1.6", "1.8", "2", "2.2"]
bi_xt = [706, 706.25, 706.5, 706.75, 707]
bi_xl = ["706", "706.25", "706.5", "706.75", "707"]
bi_yt = [2.04, 2.06, 2.08, 2.1]
bi_yl = ["2.04", "2.06", "2.08", "2.1"]
c_xt = [1074.4, 1074.5, 1074.6, 1074.7, 1074.8, 1074.9, 1075.0, 1075.1]
c_xl = ["1074.4", "1074.5", "1074.6", "1074.7", "1074.8", "1074.9", "1075", "1075.1"]
c_yt = [1.25, 1.3, 1.35, 1.4, 1.45, 1.5, 1.55, 1.6]
c_yl = ["1.25", "1.3", "1.35", "1.4", "1.45", "1.5", "1.55", "1.6"]
d_xt = [540, 545, 550, 555, 560, 565, 570, 575, 580]
d_xl = ["540", "545", "550", "555", "560", "565", "570", "575", "580"]
d_yt = [1.15, 1.2, 1.25, 1.3, 1.35, 1.4, 1.45]
d_yl = ["1.15", "1.2", "1.25", "1.3", "1.35", "1.4", "1.45"]
di_xt = [555, 556, 557]
di_xl = ["555", "556", "557"]
di_yt = [1.34, 1.36, 1.38, 1.4]
di_yl = ["1.34", "1.36", "1.38", "1.4"]
e_xt = [202.1, 202.2, 202.3, 202.4, 202.5, 202.6, 202.7]
e_xl = ["202.1", "202.2", "202.3", "202.4", "202.5", "202.6", "202.7"]
e_yt = [0.99, 1.0, 1.01, 1.02, 1.03, 1.04, 1.05, 1.06, 1.07]
e_yl = ["0.99", "1", "1.01", "1.02", "1.03", "1.04", "1.05", "1.06", "1.07"]
ei_xt = [180, 190, 200, 210]
ei_xl = ["180", "190", "200", "210"]
ei_yt = [0.98, 1.0, 1.02, 1.04]
ei_yl = ["0.98", "1", "1.02", "1.04"]
f_xt = [0, 500, 1000, 1500]
f_xl = ["0", "500", "1000", "1500"]
f_yt = [0.98, 0.99, 1.0, 1.01, 1.02, 1.03, 1.04, 1.05]
f_yl = ["0.98", "0.99", "1", "1.01", "1.02", "1.03", "1.04", "1.05"]

# ============================ FIGURE ============================
PAGE_W, PAGE_H = 1287, 1553
OFF = 8                      # default page margin of the html body
W, H = PAGE_W - OFF, PAGE_H - OFF
FONT = "Liberation Serif"
GRAY = "#8a8a8a"
MGRAY = "#7a7a7a"
RED, GREEN, BLUE = "#ff0000", "#00e600", "#0000ff"
F_RED, F_GREEN, F_BLUE, F_GRAY = "#c81414", "#3ada3a", "#1414d2", "#9a9a9a"
TICK_SIZE = 18.5
TEXT_SIZE = 20


def PX(x):
    return (x - OFF) / W


def PY(y):
    return 1 - (y - OFF) / H


fig = go.Figure()

panels = {
    1: dict(box=(108, 643, 48, 404), xr=[1810, 1812.93], yr=[1.9, 2.45], xt=(a_xt, a_xl), yt=(a_yt, a_yl)),
    2: dict(box=(152, 431, 180, 352), xr=[1566, 1930], yr=[0.48, 2.5], xt=(ai_xt, ai_xl), yt=(ai_yt, ai_yl)),
    3: dict(box=(750, 1283, 48, 404), xr=[700, 732.8], yr=[1.1, 2.2], xt=(b_xt, b_xl), yt=(b_yt, b_yl)),
    4: dict(box=(1030, 1277, 60, 232), xr=[705.984, 707.099], yr=[2.030, 2.1], xt=(bi_xt, bi_xl), yt=(bi_yt, bi_yl)),
    5: dict(box=(120, 643, 573, 930), xr=[1074.395, 1075.185], yr=[1.25, 1.6], xt=(c_xt, c_xl), yt=(c_yt, c_yl)),
    6: dict(box=(762, 1283, 573, 930), xr=[540, 581.7], yr=[1.15, 1.45], xt=(d_xt, d_xl), yt=(d_yt, d_yl)),
    7: dict(box=(814, 1022, 745, 892), xr=[554.69, 557.1], yr=[1.34, 1.4104], xt=(di_xt, di_xl), yt=(di_yt, di_yl)),
    8: dict(box=(120, 641, 1099, 1454), xr=[202.046, 202.745], yr=[0.99, 1.07], xt=(e_xt, e_xl), yt=(e_yt, e_yl)),
    9: dict(box=(175, 385, 1133, 1280), xr=[179.25, 214.4], yr=[0.9797, 1.0495], xt=(ei_xt, ei_xl), yt=(ei_yt, ei_yl)),
    10: dict(box=(760, 1283, 1098, 1455), xr=[-5, 2000], yr=[0.98, 1.05], xt=(f_xt, f_xl), yt=(f_yt, f_yl)),
}

layout_axes = {}
for i, p in panels.items():
    l, r, t, b = p["box"]
    sfx = "" if i == 1 else str(i)
    common = dict(showline=True, linecolor="black", linewidth=1.2, mirror="ticks", ticks="inside",
                  ticklen=7, tickwidth=1, tickcolor="black", showgrid=False, zeroline=False,
                  automargin=False,
                  tickfont=dict(family=FONT, size=TICK_SIZE, color="black"), tickmode="array")
    layout_axes["xaxis" + sfx] = dict(common, domain=[PX(l), min(PX(r), 1.0)], range=p["xr"],
                                      tickvals=p["xt"][0], ticktext=p["xt"][1],
                                      anchor="y" + sfx, ticklabelstandoff=5)
    layout_axes["yaxis" + sfx] = dict(common, domain=[PY(b), PY(t)], range=p["yr"],
                                      tickvals=p["yt"][0], ticktext=p["yt"][1],
                                      anchor="x" + sfx, ticklabelstandoff=9)


def ax(i):
    s = "" if i == 1 else str(i)
    return "x" + s, "y" + s


def line(i, t, f, color, width=1.0, shape="linear"):
    xa, ya = ax(i)
    fig.add_trace(go.Scatter(x=t, y=f, mode="lines", line=dict(color=color, width=width, shape=shape),
                             xaxis=xa, yaxis=ya, showlegend=False, hoverinfo="skip"))


def pts(i, t, f, err, color, size=3, cap=0, thick=1.0, symbol="circle", errarr=None, join=0):
    xa, ya = ax(i)
    if errarr is not None:
        ey = dict(type="data", array=errarr, color=color, thickness=thick, width=cap)
    else:
        ey = dict(type="constant", value=err, color=color, thickness=thick, width=cap)
    fig.add_trace(go.Scatter(x=t, y=f, mode="lines+markers" if join else "markers",
                             line=dict(color=color, width=join),
                             marker=dict(color=color, size=size, symbol=symbol, line=dict(width=0)),
                             error_y=ey, xaxis=xa, yaxis=ya, showlegend=False, hoverinfo="skip"))


# ---- (a) main ----
line(1, a_sl_t, a_sl_f, MGRAY, 1.0, "spline")
line(1, a_pl_t, a_pl_f, "black", 1.3)
pts(1, a_H_t, a_H_f, 0.0045, GRAY, size=4, cap=0, thick=1.6, join=1.6)
pts(1, a_J_t, a_J_f, 0.006, RED, size=4, cap=0, thick=1.6)
pts(1, a_Y_t, a_Y_f, 0.008, GREEN, size=4, cap=0, thick=1.6)
pts(1, a_V_t, a_V_f, 0.005, BLUE, size=4, cap=0, thick=1.6)
# ---- (a) inset ----
line(2, ai_sl_t, ai_sl_f, MGRAY, 1.0, "spline")
pts(2, ai_H_t, ai_H_f, 0.02, GRAY, size=5, cap=0, thick=3, join=4)
pts(2, ai_Vb_t, ai_Vb_f, 0.006, BLUE, size=5, cap=0, thick=1.2, join=4)
pts(2, ai_Vp_t, ai_Vp_f, 0.006, BLUE, size=5, cap=0, thick=1.2, join=2.5)

# ---- (b) main ----
line(3, b_sl_t, b_sl_f, MGRAY, 1.0, "spline")
xa, ya = ax(3)
fig.add_trace(go.Scatter(x=b_H_t, y=b_H_f, mode="lines+markers",
                         line=dict(color=GRAY, width=9, shape="spline"),
                         marker=dict(color=GRAY, size=8, symbol="square"),
                         error_y=dict(type="constant", value=0.006, color=GRAY, thickness=1.5, width=4),
                         xaxis=xa, yaxis=ya, showlegend=False, hoverinfo="skip"))
pts(3, b_V_t, b_V_f, 0.0065, RED, size=3, cap=3, thick=1.2)
pts(3, b_V_t, b_V_f, 0.009, GREEN, size=3, cap=3, thick=1.2)
pts(3, b_V_t, b_V_f, 0.0053, BLUE, size=4, cap=3, thick=1.6)
# ---- (b) inset ----
pts(4, bi_H_t, bi_H_f, 0.004, GRAY, size=3, cap=4, thick=1.2)
line(4, bi_sl_t, bi_sl_f, MGRAY, 1.0, "spline")
line(4, bi_H_t, bi_H_f, "black", 1.0)
pts(4, bi_V_t, bi_V_f, 0.0053, BLUE, size=3, cap=4, thick=1.2)
pts(4, bi_Y_t, bi_Y_f, 0.009, GREEN, size=3, cap=4, thick=1.2)
pts(4, bi_J_t, bi_J_f, 0.0063, RED, size=3, cap=4, thick=1.2)

# ---- (c) ----
line(5, c_sl_t, c_sl_f, MGRAY, 1.0, "spline")
line(5, c_pl_t, c_pl_f, "black", 1.3)
pts(5, c_H_t, c_H_f, 0.004, GRAY, size=3, cap=4, thick=1.3)
pts(5, c_J_t, c_J_f, 0, RED, size=3, cap=4, thick=1.4, errarr=c_J_e)
pts(5, c_Y_t, c_Y_f, 0, GREEN, size=3, cap=4, thick=1.4, errarr=c_Y_e)
pts(5, c_V_t, c_V_f, 0, BLUE, size=3, cap=4, thick=1.4, errarr=c_V_e)

# ---- (d) main ----
line(6, d_sl_t, d_sl_f, MGRAY, 1.0, "spline")
line(6, d_pl_t, d_pl_f, "#333333", 1.0)
pts(6, d_H_t, d_H_f, 0.0065, GRAY, size=6, cap=3, thick=2.6)
pts(6, d_C_t, d_J_f, 0.004, RED, size=4, cap=0, thick=1.4)
pts(6, d_C_t, d_Y_f, 0.006, GREEN, size=4, cap=0, thick=1.4)
pts(6, d_C_t, d_V_f, 0.003, BLUE, size=5, cap=0, thick=1.4)
# ---- (d) inset ----
line(7, d_sl_t, d_sl_f, MGRAY, 1.0)
pts(7, di_H_t, di_H_f, 0.003, GRAY, size=3, cap=0, thick=1.8)
line(7, di_H_t, di_H_f, "#555555", 0.8)
line(7, d_pl_t, d_pl_f, "#333333", 1.0)
pts(7, d_C_t, d_J_f, 0.004, RED, size=4, cap=0, thick=1.4)
pts(7, d_C_t, d_Y_f, 0.006, GREEN, size=4, cap=0, thick=1.4)
pts(7, d_C_t, d_V_f, 0.003, BLUE, size=4, cap=0, thick=1.4)

# ---- (e) main ----
line(8, e_sl_t, e_sl_f, "#999999", 1.3)
line(8, e_pl_t, e_pl_f, "black", 1.3, "spline")
pts(8, e_H_t, e_H_f, 0.0022, GRAY, size=3, cap=4, thick=1.3)
pts(8, e_V_t, e_V_f, 0.0039, BLUE, size=3, cap=4, thick=1.4)
pts(8, e_Y_t, e_Y_f, 0.0066, GREEN, size=3, cap=4, thick=1.4)
pts(8, e_J_t, e_J_f, 0.0046, RED, size=3, cap=4, thick=1.4)
# ---- (e) inset ----
line(9, [179.25, 214.4], [1.0, 1.0], "#999999", 1.0)
pts(9, ei_t, ei_H_f, 0.0065, "#9a9a9a", size=3, cap=4, thick=1.6)
pts(9, ei_t, ei_J_f, 0.006, RED, size=3, cap=4, thick=1.2)
pts(9, ei_t, ei_Y_f, 0.0065, GREEN, size=3, cap=4, thick=1.2)
pts(9, ei_t, ei_V_f, 0.0045, BLUE, size=3, cap=4, thick=1.2)

# ---- (f) ----
line(10, f_model_t, f_model_f, "#888888", 1.0)
pts(10, f_t, f_H_f, 0.005, F_GRAY, size=3, cap=5, thick=1.2)
pts(10, f_t, f_J_f, 0.005, F_RED, size=3, cap=5, thick=1.2)
pts(10, f_t, f_Y_f, 0.006, F_GREEN, size=4, cap=5, thick=1.4)
pts(10, f_t, f_V_f, 0.004, F_BLUE, size=5, cap=5, thick=1.8)

# ============================ TEXT ============================
S = "\u00a0"
DCHI = "Δ<i>χ</i>\u00b2"
titles = [
    ("<i>M</i><sub>l</sub> = 0.86<i>M</i><sub>⊙</sub>" + S * 4 + "<i>M</i><sub>p</sub> = 1<i>M</i><sub>⊕</sub>"
     + S * 5 + "<i>a</i> = 2.4AU" + S * 4 + DCHI + " = 1526.96", 376, 20),
    ("<i>M</i><sub>l</sub> = 0.39<i>M</i><sub>⊙</sub>" + S * 4 + "<i>M</i><sub>p</sub> = 0.1<i>M</i><sub>⊕</sub>"
     + S * 5 + "<i>a</i> = 2.6AU" + S * 4 + DCHI + " = 248.756", 1015, 20),
    ("<i>M</i><sub>l</sub> = 0.27<i>M</i><sub>⊙</sub>" + S * 4 + "<i>M</i><sub>p</sub> = 1<i>M</i><sub>⊕</sub>"
     + S * 5 + "<i>a</i> = 2.74AU" + S * 4 + DCHI + " = 177.169", 382, 542),
    ("<i>M</i><sub>l</sub> = 0.25<i>M</i><sub>⊙</sub>" + S * 4 + "<i>M</i><sub>p</sub> = 0.03<i>M</i><sub>⊕</sub>"
     + S * 5 + "<i>a</i> = 1.67AU" + S * 4 + DCHI + " = 383.923", 1022, 542),
    ("<i>M</i><sub>p</sub> = 1<i>M</i><sub>⊕</sub>" + S * 4 + DCHI + " = 1090.36" + S * 4
     + "<i>N</i><sub>&gt;3<i>σ</i></sub> = 7", 381, 1067),
    ("<i>M</i><sub>p</sub> = 1<i>M</i><sub>⊕</sub>" + S * 4 + DCHI + " = 1090.36" + S * 4
     + "<i>N</i><sub>&gt;3<i>σ</i></sub> = 7", 1022, 1066),
]
annotations = []
tfont = dict(family=FONT, size=TEXT_SIZE, color="black")
for txt, x, y in titles:
    annotations.append(dict(text=txt, x=PX(x), y=PY(y), xref="paper", yref="paper", showarrow=False,
                            xanchor="center", yanchor="middle", font=tfont))
for x, y in [(376, 458), (1016, 458), (381, 984), (1022, 984), (380, 1508), (1021, 1508)]:
    annotations.append(dict(text="Time/days", x=PX(x), y=PY(y), xref="paper", yref="paper",
                            showarrow=False, xanchor="center", yanchor="middle", font=tfont))
for x, y in [(18, 226), (658, 226), (18, 752), (658, 752), (18, 1277), (658, 1277)]:
    annotations.append(dict(text="Normalized flux", x=PX(x), y=PY(y), xref="paper", yref="paper",
                            showarrow=False, xanchor="center", yanchor="middle", textangle=-90, font=tfont))
for lab, x, y in [("(a)", 322, 490), ("(b)", 963, 490), ("(c)", 322, 1016), ("(d)", 963, 1016),
                  ("(e)", 322, 1540), ("(f)", 963, 1540)]:
    annotations.append(dict(text=lab, x=PX(x), y=PY(y), xref="paper", yref="paper", showarrow=False,
                            xanchor="center", yanchor="middle", font=tfont))

shapes = []
LEG_LABELS = ["NISP <i>H</i>", "NISP <i>J</i>", "NISP <i>Y</i>", "VIS <i>RIZ</i>"]


def legend(colors, text_right, x0, x1, rows, caps):
    for lab, col, r in zip(LEG_LABELS, colors, rows):
        annotations.append(dict(text=lab, x=PX(text_right), y=PY(r), xref="paper", yref="paper",
                                showarrow=False, xanchor="right", yanchor="middle", font=tfont))
        shapes.append(dict(type="line", xref="paper", yref="paper", x0=PX(x0), x1=PX(x1),
                           y0=PY(r), y1=PY(r), line=dict(color=col, width=1.3)))
        if caps:
            for xx in (x0, x1):
                shapes.append(dict(type="line", xref="paper", yref="paper", x0=PX(xx), x1=PX(xx),
                                   y0=PY(r - 4), y1=PY(r + 4), line=dict(color=col, width=1.3)))
        xm = (x0 + x1) / 2
        shapes.append(dict(type="circle", xref="paper", yref="paper", x0=PX(xm - 1.8), x1=PX(xm + 1.8),
                           y0=PY(r + 1.8), y1=PY(r - 1.8), fillcolor=col, line=dict(color=col, width=0)))


legend([GRAY, RED, GREEN, BLUE], 547, 560, 618, [63, 85, 106, 128], False)
legend([GRAY, RED, GREEN, BLUE], 876, 889, 946, [323, 344, 366, 387], True)
legend([GRAY, RED, GREEN, BLUE], 247, 264, 323, [590, 611, 633, 655], True)
legend([GRAY, RED, GREEN, BLUE], 1187, 1205, 1263, [590, 611, 633, 655], False)
legend([GRAY, RED, GREEN, BLUE], 545, 559, 617, [1115, 1137, 1158, 1180], True)
legend([F_GRAY, F_RED, F_GREEN, F_BLUE], 1187, 1205, 1262, [1114, 1136, 1158, 1180], True)

fig.update_layout(width=W, height=H, autosize=False,
                  margin=dict(l=0, r=0, t=0, b=0, pad=0, autoexpand=False),
                  paper_bgcolor="white", plot_bgcolor="white", showlegend=False,
                  annotations=annotations, shapes=shapes, font=dict(family=FONT, color="black"),
                  **layout_axes)

fig.write_html("out.html")
